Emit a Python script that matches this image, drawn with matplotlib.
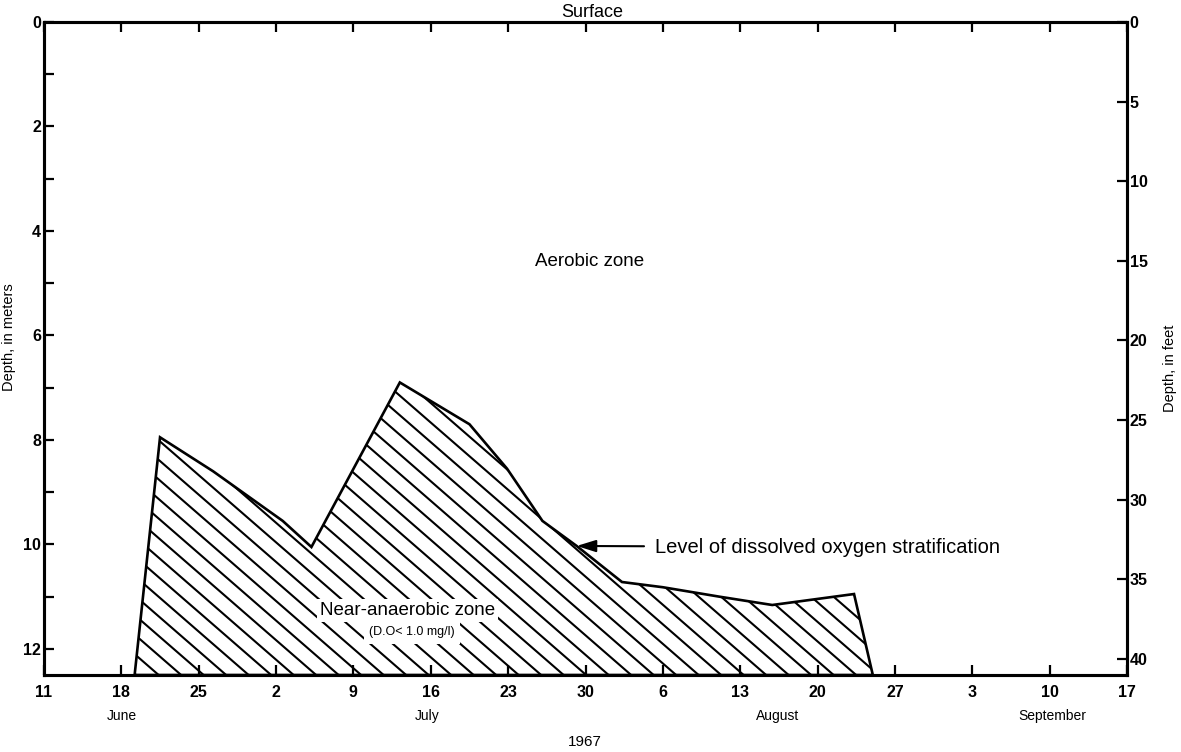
import numpy as np
import matplotlib
matplotlib.use("Agg")
import matplotlib.pyplot as plt
from matplotlib.collections import LineCollection

plt.rcParams['font.family'] = ['Liberation Sans', 'DejaVu Sans']

# days counted from June 11, 1967
day_ticks = list(range(0, 99, 7))
day_labels = ["11", "18", "25", "2", "9", "16", "23", "30",
              "6", "13", "20", "27", "3", "10", "17"]
months = ["June", "July", "August", "September"]
month_pos = [7.0, 34.7, 66.4, 91.2]

# level of dissolved oxygen stratification (depth in meters)
days = [8.2, 10.5, 15.3, 21.6, 24.2, 32.2, 38.5, 41.9, 45.1, 48.2,
        52.3, 56.0, 61.1, 65.9, 73.3, 75.0]
depth = [12.5, 7.95, 8.6, 9.55, 10.05, 6.9, 7.7, 8.55, 9.55, 10.03,
         10.72, 10.82, 11.0, 11.16, 10.95, 12.5]

bottom_m = 12.5
m_to_ft = 3.2808

W_PX, H_PX = 1181, 752
fig = plt.figure(figsize=(W_PX / 100, H_PX / 100), dpi=100)
left, right, top, bot = 44 / W_PX, 1127 / W_PX, 1 - 22 / H_PX, 1 - 675 / H_PX
ax = fig.add_axes([left, bot, right - left, top - bot])

ax.set_xlim(0, 98)
ax.set_ylim(bottom_m, 0)

# near-anaerobic zone
poly = ax.fill(days, depth, facecolor="none", edgecolor="black", lw=1.9,
               joinstyle="miter", zorder=3)[0]

# diagonal hatching clipped to the zone
aw = (right - left) * W_PX
ah = (top - bot) * H_PX
ang = np.deg2rad(41)
step = 22.5 / aw
run = ah / np.tan(ang) / aw
starts = np.arange(-run - step, 1 + step, step) + 0.002
segs = [[(u, 1), (u + run, 0)] for u in starts]
hatch = LineCollection(segs, colors="black", linewidths=1.5,
                       transform=ax.transAxes, zorder=2)
hatch.set_clip_path(poly)
ax.add_collection(hatch)

for s in ax.spines.values():
    s.set_linewidth(2.2)

ax.set_xticks(day_ticks)
ax.set_xticklabels(day_labels, fontsize=11.5, fontweight="bold")
ax.set_yticks(range(0, 13, 2))
ax.set_yticks(range(1, 13, 2), minor=True)
ax.set_yticklabels([str(v) for v in range(0, 13, 2)], fontsize=11.5,
                   fontweight="bold")
ax.tick_params(axis="x", direction="in", length=7, width=1.6, top=True,
               pad=7)
ax.tick_params(axis="y", which="both", direction="in", length=7, width=1.6,
               pad=2)

ax2 = ax.twinx()
ax2.set_ylim(bottom_m * m_to_ft, 0)
ax2.set_yticks(range(0, 41, 5))
ax2.set_yticklabels([str(v) for v in range(0, 41, 5)], fontsize=11.5,
                    fontweight="bold")
ax2.tick_params(axis="y", direction="in", length=7, width=1.6, pad=2)
for s in ax2.spines.values():
    s.set_linewidth(2.2)

ax.set_ylabel("Depth, in meters", fontsize=10.5)
ax.yaxis.set_label_coords(-0.026, 0.518)
ax2.set_ylabel("Depth, in feet", fontsize=10.5)
ax2.yaxis.set_label_coords(1.033, 0.47)

for name, pos in zip(months, month_pos):
    ax.text(pos, -0.063, name, transform=ax.get_xaxis_transform(),
            ha="center", va="center", fontsize=10)
ax.text(0.499, -0.103, "1967", transform=ax.transAxes, ha="center",
        va="center", fontsize=11)
ax.text(0.506, 1.014, "Surface", transform=ax.transAxes, ha="center",
        va="center", fontsize=13)

ax.text(49.4, 4.58, "Aerobic zone", ha="center", va="center", fontsize=13.5)
ax.text(32.9, 11.26, "Near-anaerobic zone", ha="center", va="center",
        fontsize=13.5, zorder=4,
        bbox=dict(facecolor="white", edgecolor="none", pad=2))
ax.text(33.3, 11.68, "(D.O< 1.0 mg/l)", ha="center", va="center",
        fontsize=9, zorder=4,
        bbox=dict(facecolor="white", edgecolor="none", pad=4))

ax.annotate("Level of dissolved oxygen stratification",
            xy=(days[9], depth[9]), xytext=(55.3, depth[9] + 0.02),
            ha="left", va="center", fontsize=14.5,
            arrowprops=dict(arrowstyle="-|>,head_length=0.8,head_width=0.25",
                            color="black", lw=1.5, shrinkA=6, shrinkB=0))

fig.savefig("out.png", dpi=100)
